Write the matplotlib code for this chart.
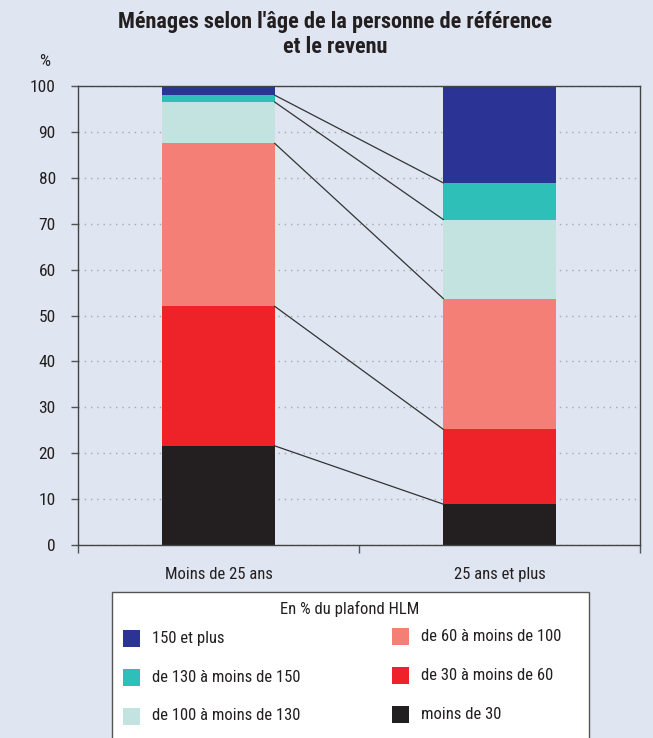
import matplotlib
matplotlib.use("Agg")
import matplotlib.pyplot as plt
from matplotlib import font_manager
from matplotlib.patches import Rectangle
import numpy as np

# Pick a narrow sans family if one is available
installed = {f.name for f in font_manager.fontManager.ttflist}
narrow = None
for name in ['Liberation Sans Narrow', 'Arial Narrow', 'Roboto Condensed',
             'DejaVu Sans Condensed', 'Open Sans Condensed', 'Noto Sans Condensed']:
    if name in installed:
        narrow = name
        break
stretch = 'normal'
if narrow is None:
    narrow = 'DejaVu Sans'
    if any(f.name == 'DejaVu Sans' and f.stretch == 'condensed'
           for f in font_manager.fontManager.ttflist):
        stretch = 'condensed'
plt.rcParams['font.family'] = [narrow, 'DejaVu Sans']
plt.rcParams['font.stretch'] = stretch

# Data: share of households (%) by income bracket (as % of HLM ceiling)
groups = ["Moins de 25 ans", "25 ans et plus"]
brackets = ["moins de 30", "de 30 à moins de 60", "de 60 à moins de 100",
            "de 100 à moins de 130", "de 130 à moins de 150", "150 et plus"]
moins_25 = [21.6, 30.4, 35.5, 9.0, 1.5, 2.0]
plus_25 = [8.9, 16.3, 28.5, 17.2, 8.0, 21.1]
colors = ["#231F20", "#EE2229", "#F47F76", "#C3E3E0", "#2EBFB8", "#2B3494"]

bg = "#DFE5F1"
txt = "#231F20"

fig = plt.figure(figsize=(6.53, 7.38), dpi=100, facecolor=bg)
ax = fig.add_axes([78/653, 1-545/738, (640-78)/653, (545-86)/738], facecolor=bg)

x = np.arange(len(groups))
width = 0.40
values = np.array([moins_25, plus_25])
bottoms = np.zeros(len(groups))
for i, (lab, col) in enumerate(zip(brackets, colors)):
    ax.bar(x, values[:, i], width, bottom=bottoms, color=col, label=lab, zorder=2)
    bottoms = bottoms + values[:, i]

# Connecting lines between cumulative boundaries of the two bars
cum = np.cumsum(values, axis=1)
for k in range(len(brackets) - 1):
    ax.plot([x[0] + width/2, x[1] - width/2], [cum[0, k], cum[1, k]],
            color="#333333", lw=0.9, zorder=3)

ax.set_xlim(-0.5, 1.5)
ax.set_ylim(0, 100)
ax.set_yticks(np.arange(0, 101, 10))
ax.tick_params(axis='y', direction='out', length=5, width=1, color="#555555",
               labelsize=12.5, labelcolor=txt, pad=11)
ax.set_xticks([-0.5, 0.5, 1.5])
ax.set_xticklabels([])
ax.set_xticks(x, minor=True)
ax.set_xticklabels(groups, minor=True)
ax.tick_params(axis='x', which='major', direction='out', length=6, width=1, color="#555555")
ax.tick_params(axis='x', which='minor', length=0, labelsize=12, labelcolor=txt, pad=16)
ax.yaxis.grid(True, linestyle=(0, (1, 3.5)), color="#A8A8A8", lw=1, zorder=1)
ax.set_axisbelow(True)
for s in ax.spines.values():
    s.set_color("#444444")
    s.set_linewidth(1)

fig.text(45/653, 1-62/738, "%", fontsize=12.5, color=txt, ha='center', va='center')

fig.text(335/653, 1-22/738, "Ménages selon l'âge de la personne de référence",
         ha='center', va='center', fontsize=16, fontweight='bold', color=txt)
fig.text(335/653, 1-47/738, "et le revenu",
         ha='center', va='center', fontsize=16, fontweight='bold', color=txt)

# Legend box
W, H = 653, 738
fig.patches.append(Rectangle((112/W, -0.05), (589-112)/W, 0.05 + (H-592)/H,
                             transform=fig.transFigure, facecolor="white",
                             edgecolor="#555555", lw=1))
fig.text(350/W, 1-609/H, "En % du plafond HLM", ha='center', va='center',
         fontsize=12, color=txt)
order = [5, 4, 3, 2, 1, 0]
col_x = [(123, 152), (392, 421)]
row_y = [638, 677, 716]
for n, idx in enumerate(order):
    c, r = divmod(n, 3)
    sx, tx = col_x[c]
    yc = row_y[r] - (1.5 if c == 1 else 0)
    fig.patches.append(Rectangle((sx/W, 1-(yc+8.5)/H), 17/W, 17/H,
                                 transform=fig.transFigure, facecolor=colors[idx],
                                 edgecolor='none'))
    fig.text(tx/W, 1-yc/H, brackets[idx],
             ha='left', va='center', fontsize=12, color=txt)

fig.savefig("out.png", dpi=100, facecolor=bg)
